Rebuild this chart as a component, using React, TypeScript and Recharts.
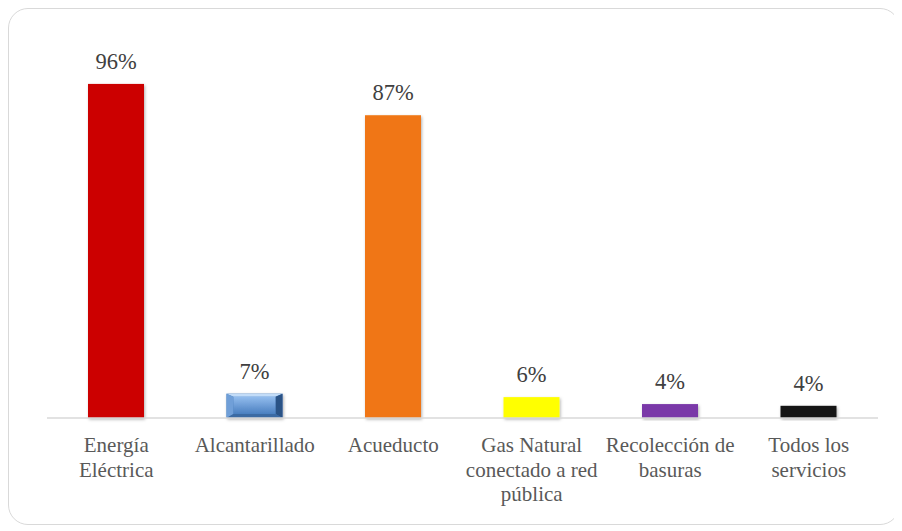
import React from "react";
import { BarChart, Bar, XAxis, YAxis, Cell, LabelList } from "recharts";

const categories = [
  "Energía Eléctrica",
  "Alcantarillado",
  "Acueducto",
  "Gas Natural conectado a red pública",
  "Recolección de basuras",
  "Todos los servicios",
];
const tickLines = [
  ["Energía", "Eléctrica"],
  ["Alcantarillado"],
  ["Acueducto"],
  ["Gas Natural", "conectado a red", "pública"],
  ["Recolección de", "basuras"],
  ["Todos los", "servicios"],
];
const values = [96, 7, 87, 6, 4, 3.5];

const colors = ["#cc0000", "#4a7dbb", "#f07613", "#ffff00", "#7a38a8", "#141414"];

const data = categories.map((c, i) => ({ name: c, value: values[i] }));

const FONT = "Liberation Serif, Times New Roman, serif";
const tickStyle = { fontFamily: FONT, fontSize: 21 };
const valueStyle = { fontFamily: FONT, fontSize: 22.5 };

const Tick = (props: any) => {
  const { x, y, payload, index } = props;
  const i = typeof payload?.index === "number" ? payload.index : index;
  const lines = tickLines[i] || [String(payload.value)];
  return (
    <text x={x} y={y} textAnchor="middle" fill="#595959" style={tickStyle}>
      {lines.map((l, k) => (
        <tspan key={k} x={x} y={y + 34 + k * 24.5} style={tickStyle}>
          {l}
        </tspan>
      ))}
    </text>
  );
};

const ValueLabel = (props: any) => {
  const { x, y, width, value } = props;
  return (
    <text
      x={Number(x) + Number(width) / 2}
      y={Number(y) - 15}
      textAnchor="middle"
      fill="#404040"
      style={valueStyle}
    >
      {`${Math.round(Number(value))}%`}
    </text>
  );
};

const BarShape = (props: any) => {
  const { x, y, width, height, fill, index } = props;
  if (index === 1) {
    const b = Math.min(7, width / 4);
    const t = Math.min(3, height / 4);
    const bb = Math.min(4, height / 4);
    return (
      <g filter="url(#barShadow)">
        <rect x={x} y={y} width={width} height={height} fill="#4a7dbb" />
        <polygon
          points={`${x},${y} ${x + width},${y} ${x + width - b},${y + t} ${x + b},${y + t}`}
          fill="#c2dcf8"
        />
        <polygon
          points={`${x},${y} ${x + b},${y + t} ${x + b},${y + height - bb} ${x},${y + height}`}
          fill="#6f9fd8"
        />
        <polygon
          points={`${x + width},${y} ${x + width - b},${y + t} ${x + width - b},${y + height - bb} ${x + width},${y + height}`}
          fill="#2a5286"
        />
        <polygon
          points={`${x},${y + height} ${x + b},${y + height - bb} ${x + width - b},${y + height - bb} ${x + width},${y + height}`}
          fill="#3a6aa3"
        />
        <rect x={x + b} y={y + t} width={width - 2 * b} height={height - t - bb} fill="url(#blueInner)" />
      </g>
    );
  }
  return <rect x={x} y={y} width={width} height={height} fill={fill} filter="url(#barShadow)" />;
};

export default function App() {
  return (
    <div
      style={{
        width: 890,
        height: 515,
        border: "1px solid #d9d9d9",
        borderRadius: 20,
        background: "#ffffff",
        overflow: "hidden",
        fontFamily: FONT,
      }}
    >
      <BarChart
        width={890}
        height={515}
        data={data}
        margin={{ top: 61, right: 21, left: 38, bottom: 26 }}
        style={{ fontFamily: FONT }}
      >
        <defs>
          <filter id="barShadow" x="-20%" y="-20%" width="140%" height="140%">
            <feDropShadow dx="1" dy="1.5" stdDeviation="1.6" floodColor="#000" floodOpacity="0.3" />
          </filter>
          <linearGradient id="blueInner" x1="0" y1="0" x2="0" y2="1">
            <stop offset="0%" stopColor="#93bdee" />
            <stop offset="100%" stopColor="#4a7fc0" />
          </linearGradient>
        </defs>
        <XAxis
          dataKey="name"
          height={80}
          interval={0}
          tickLine={false}
          tickSize={0}
          tickMargin={0}
          axisLine={{ stroke: "#d9d9d9", strokeWidth: 1.5 }}
          tick={<Tick />}
        />
        <YAxis hide domain={[0, 100]} />
        <Bar dataKey="value" barSize={56} isAnimationActive={false} shape={<BarShape />}>
          {data.map((d, i) => (
            <Cell key={i} fill={colors[i]} />
          ))}
          <LabelList dataKey="value" content={<ValueLabel />} />
        </Bar>
      </BarChart>
    </div>
  );
}
